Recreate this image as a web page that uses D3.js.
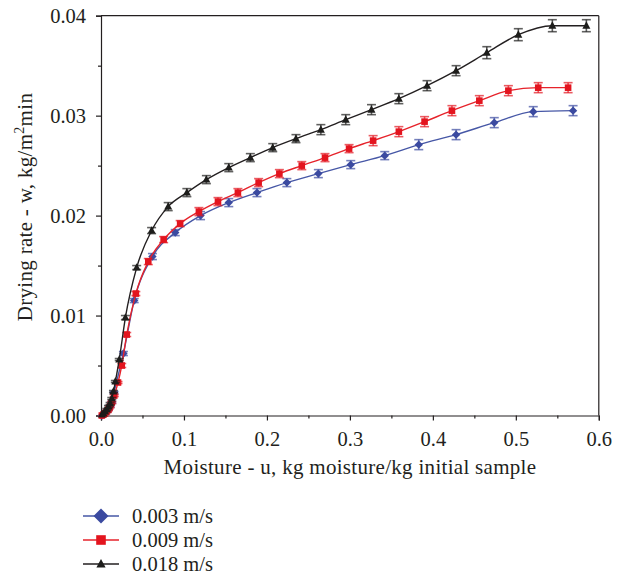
<!DOCTYPE html>
<html><head><meta charset="utf-8">
<script src="https://cdn.jsdelivr.net/npm/d3@7"></script>
<style>body{margin:0;background:#fff}svg{display:block}text{font-family:"Liberation Serif","DejaVu Serif",serif;fill:#231f20}</style>
</head><body><svg id="c" width="626" height="577"></svg>
<script>
const seriesNames = ["0.003 m/s","0.009 m/s","0.018 m/s"];
const blueX = [0.001,0.003,0.005,0.007,0.009,0.011,0.013,0.0157,0.027,0.040,0.062,0.0895,0.120,0.154,0.188,0.224,0.262,0.301,0.342,0.383,0.428,0.474,0.521,0.569];
const blueY = [0,0.0001,0.0002,0.0004,0.0006,0.0009,0.0013,0.0023,0.0062,0.0115,0.0159,0.0183,0.0200,0.0213,0.0223,0.0233,0.0242,0.0251,0.0260,0.0271,0.0281,0.0293,0.0304,0.0305];
const blueErr = [0,0,0,0.0001,0.0001,0.0001,0.0001,0.0001,0.0002,0.0002,0.0003,0.0003,0.0004,0.0004,0.0004,0.0004,0.0004,0.0004,0.0004,0.0005,0.0005,0.0005,0.0005,0.0005];
const redX = [0.001,0.003,0.005,0.007,0.009,0.011,0.013,0.016,0.0205,0.025,0.031,0.042,0.057,0.0755,0.0954,0.118,0.141,0.165,0.190,0.215,0.242,0.270,0.299,0.328,0.359,0.390,0.423,0.456,0.491,0.527,0.563];
const redY = [0,0.0001,0.0002,0.0004,0.0006,0.0009,0.0013,0.0020,0.0033,0.0050,0.0081,0.0122,0.0154,0.0176,0.0192,0.0204,0.0214,0.0223,0.0233,0.0242,0.0250,0.0258,0.0267,0.0275,0.0284,0.0294,0.0305,0.0315,0.0325,0.0328,0.0328];
const redErr = [0,0,0,0.0001,0.0001,0.0001,0.0001,0.0001,0.0001,0.0002,0.0002,0.0002,0.0003,0.0003,0.0003,0.0004,0.0004,0.0004,0.0004,0.0004,0.0004,0.0004,0.0004,0.0005,0.0005,0.0005,0.0005,0.0005,0.0005,0.0005,0.0005];
const blackX = [0.001,0.003,0.005,0.007,0.009,0.011,0.013,0.0150,0.0173,0.022,0.0294,0.043,0.061,0.081,0.1035,0.127,0.154,0.180,0.207,0.235,0.265,0.295,0.326,0.359,0.393,0.428,0.465,0.503,0.544,0.585];
const blackY = [0.0001,0.0002,0.0004,0.0006,0.0009,0.0012,0.0017,0.0024,0.0034,0.0056,0.0098,0.0148,0.0185,0.0209,0.0223,0.0236,0.0248,0.0258,0.0268,0.0277,0.0286,0.0296,0.0306,0.0317,0.0330,0.0345,0.0363,0.0381,0.0390,0.0390];
const blackErr = [0,0,0,0.0001,0.0001,0.0001,0.0001,0.0001,0.0001,0.0001,0.0002,0.0002,0.0003,0.0004,0.0004,0.0004,0.0004,0.0004,0.0004,0.0004,0.0005,0.0005,0.0005,0.0005,0.0005,0.0005,0.0006,0.0006,0.0006,0.0006];
const xTicks = [0,0.1,0.2,0.3,0.4,0.5,0.6];
const yTicks = [0,0.01,0.02,0.03,0.04];

const svg = d3.select("#c");
const x = d3.scaleLinear().domain([0,0.6]).range([101,598.8]);
const y = d3.scaleLinear().domain([0,0.04]).range([415.5,15.7]);

const series = [
  {name:seriesNames[0], xs:blueX, ys:blueY, es:blueErr, line:"#4657a6", fill:"#3b4aa0", sym:"diamond"},
  {name:seriesNames[1], xs:redX, ys:redY, es:redErr, line:"#e6232b", fill:"#e3141e", sym:"square"},
  {name:seriesNames[2], xs:blackX, ys:blackY, es:blackErr, line:"#231f20", fill:"#1d1d1b", sym:"triangle"}
];

function marker(g, sym, cx, cy, s, fill){
  if(sym==="diamond") g.append("path").attr("d",`M${cx},${cy-s}L${cx+s},${cy}L${cx},${cy+s}L${cx-s},${cy}Z`).attr("fill",fill);
  else if(sym==="square") g.append("rect").attr("x",cx-s).attr("y",cy-s).attr("width",2*s).attr("height",2*s).attr("fill",fill);
  else g.append("path").attr("d",`M${cx},${cy-s*1.1}L${cx+s},${cy+s*0.75}L${cx-s},${cy+s*0.75}Z`).attr("fill",fill);
}

// axes
const xAxis = d3.axisBottom(x).tickValues(xTicks).tickFormat(d3.format(".1f")).tickSize(5).tickPadding(11);
const yAxis = d3.axisLeft(y).tickValues(yTicks).tickFormat(d3.format(".2f")).tickSize(5).tickPadding(10);
const gx = svg.append("g").attr("transform","translate(0,415.5)").call(xAxis);
const gy = svg.append("g").attr("transform","translate(101,0)").call(yAxis);
[gx,gy].forEach(g=>{g.select(".domain").attr("stroke","#231f20").attr("stroke-width",1.2);
  g.selectAll(".tick line").attr("stroke","#231f20").attr("stroke-width",1.2);
  g.selectAll(".tick text").style("font-size","20.5px").attr("fill","#231f20");});
svg.append("g").attr("transform","translate(0,415.5)").call(d3.axisBottom(x).tickValues([0.05,0.15,0.25,0.35,0.45,0.55]).tickSize(3).tickFormat(""))
  .call(g=>{g.select(".domain").remove(); g.selectAll("line").attr("stroke","#231f20").attr("stroke-width",1.2);});
svg.append("g").attr("transform","translate(101,0)").call(d3.axisLeft(y).tickValues([0.005,0.015,0.025,0.035]).tickSize(3).tickFormat(""))
  .call(g=>{g.select(".domain").remove(); g.selectAll("line").attr("stroke","#231f20").attr("stroke-width",1.2);});
svg.append("line").attr("x1",x(0)).attr("x2",x(0.6)).attr("y1",y(0.04)).attr("y2",y(0.04)).attr("stroke","#231f20").attr("stroke-width",1.2);
svg.append("line").attr("x1",x(0.6)).attr("x2",x(0.6)).attr("y1",y(0.04)).attr("y2",y(0)).attr("stroke","#231f20").attr("stroke-width",1.2);

// titles
svg.append("text").attr("x",350).attr("y",474).attr("text-anchor","middle").style("font-size","21px").style("letter-spacing","0.3px").text("Moisture - u, kg moisture/kg initial sample");
const yt = svg.append("text").attr("transform","translate(32,207) rotate(-90)").attr("text-anchor","middle").style("font-size","21px").style("letter-spacing","0.3px");
yt.append("tspan").text("Drying rate - w, kg/m");
yt.append("tspan").attr("dy",-8).style("font-size","14px").text("2");
yt.append("tspan").attr("dy",8).text("min");

// data
const lineGen = d3.line().x(d=>x(d[0])).y(d=>y(d[1])).curve(d3.curveMonotoneX);
series.forEach(s=>{
  const pts = s.xs.map((v,i)=>[v,s.ys[i],s.es[i]]);
  const g = svg.append("g");
  g.append("path").attr("d",lineGen(pts)).attr("fill","none").attr("stroke",s.line).attr("stroke-width",1.4);
  pts.forEach(p=>{
    if(p[2]>0){
      const cx=x(p[0]), y1=y(p[1]+p[2]), y2=y(p[1]-p[2]);
      const eg = g.append("g").attr("stroke",s.fill).attr("stroke-opacity",0.7).attr("stroke-width",1.6);
      eg.append("line").attr("x1",cx).attr("x2",cx).attr("y1",y1).attr("y2",y2);
      eg.append("line").attr("x1",cx-4.5).attr("x2",cx+4.5).attr("y1",y1).attr("y2",y1);
      eg.append("line").attr("x1",cx-4.5).attr("x2",cx+4.5).attr("y1",y2).attr("y2",y2);
    }
  });
  pts.forEach(p=>marker(g,s.sym,x(p[0]),y(p[1]),s.sym==="diamond"?4.2:s.sym==="square"?3.3:4,s.fill));
});

// legend
series.forEach((s,i)=>{
  const ly = 516+i*24;
  const g = svg.append("g");
  g.append("line").attr("x1",83).attr("x2",119).attr("y1",ly).attr("y2",ly).attr("stroke",s.line).attr("stroke-width",1.4);
  marker(g,s.sym,101,ly,s.sym==="diamond"?7.5:s.sym==="square"?4.8:4.6,s.fill);
  g.append("text").attr("x",132).attr("y",ly+7).style("font-size","20.5px").text(s.name);
});
</script></body></html>
